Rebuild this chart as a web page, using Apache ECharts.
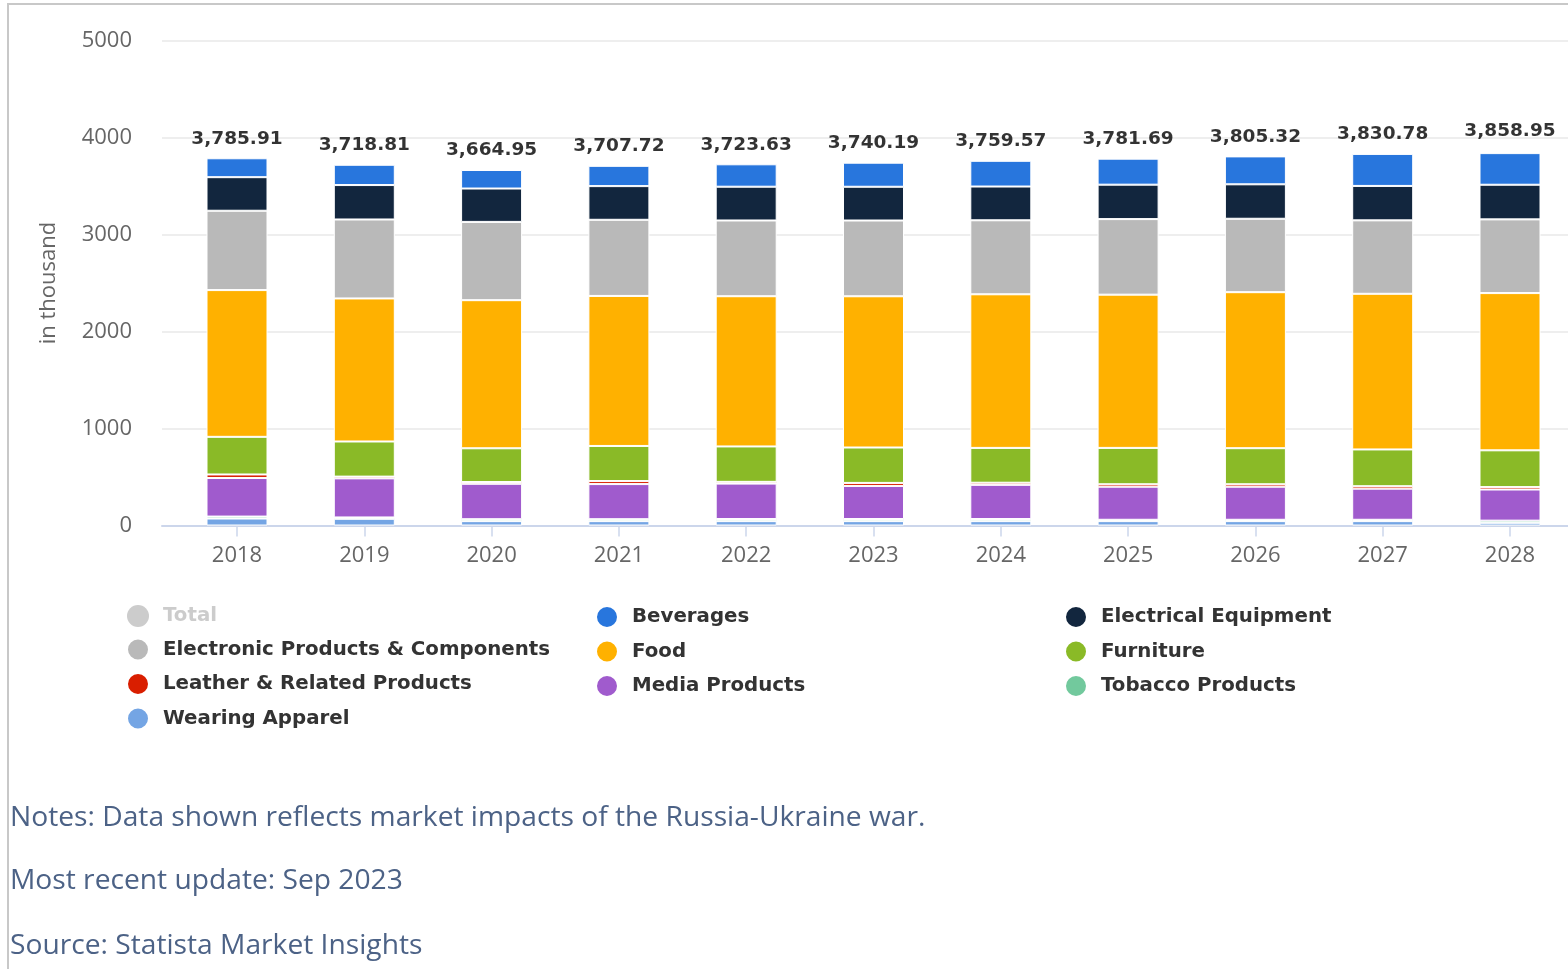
<!DOCTYPE html>
<html>
<head>
<meta charset="utf-8">
<title>Production volume by category</title>
<script src="https://cdn.jsdelivr.net/npm/echarts@6/dist/echarts.min.js"></script>
<style>
  html, body { margin: 0; padding: 0; background: #fff; overflow: hidden; }
  #chart { width: 1580px; height: 969px; }
</style>
</head>
<body>
<div id="chart"></div>
<script>
// Categories (years)
const years = ['2018', '2019', '2020', '2021', '2022', '2023', '2024', '2025', '2026', '2027', '2028'];

// Stack totals (in thousand)
const totals = [3785.91, 3718.81, 3664.95, 3707.72, 3723.63, 3740.19, 3759.57, 3781.69, 3805.32, 3830.78, 3858.95];

// Segment values (in thousand), bottom of the stack first
const wearingApparel = [72, 69, 45, 45, 45, 45, 45, 45, 45, 45, 28];
const tobaccoProducts = [20, 14, 20, 20, 22, 22, 22, 14, 14, 14, 22];
const mediaProducts = [398, 403, 365, 362, 365, 341, 352, 341, 341, 321, 321];
const leatherProducts = [36, 18, 18, 31, 18, 31, 22, 25, 25, 25, 25];
const furniture = [388, 362, 348, 362, 365, 365, 359, 375, 372, 379, 379];
const food = [1512.91, 1474.81, 1526.95, 1546.72, 1548.63, 1559.19, 1583.57, 1579.69, 1608.32, 1604.78, 1620.95];
const electronicProducts = [818, 814, 807, 785, 781, 781, 763, 779, 757, 757, 760];
const electricalEquipment = [346, 355, 344, 347, 348, 348, 348, 355, 355, 355, 357];
const beverages = [195, 209, 191, 209, 231, 248, 265, 268, 288, 330, 326];

// Y axis ticks
const yMin = 0, yMax = 5000, yStep = 1000;

const segments = [
  { name: 'Wearing Apparel', data: wearingApparel, color: '#74a5e4' },
  { name: 'Tobacco Products', data: tobaccoProducts, color: '#72c99d' },
  { name: 'Media Products', data: mediaProducts, color: '#a05bcd' },
  { name: 'Leather & Related Products', data: leatherProducts, color: '#d91e00' },
  { name: 'Furniture', data: furniture, color: '#8aba27' },
  { name: 'Food', data: food, color: '#ffb100' },
  { name: 'Electronic Products & Components', data: electronicProducts, color: '#b9b9b9' },
  { name: 'Electrical Equipment', data: electricalEquipment, color: '#12263e' },
  { name: 'Beverages', data: beverages, color: '#2876dd' }
];

const axisFont = '"Open Sans", sans-serif';
const boldFont = '"DejaVu Sans", sans-serif';

const plotTop = 40.5, plotHeight = 485;
const catWidth = 127.3;
const barLeft = 237 - catWidth / 2;

const series = segments.map(s => ({
  name: s.name,
  type: 'bar',
  stack: 'total',
  xAxisIndex: 1,
  yAxisIndex: 1,
  barWidth: 61,
  data: s.data,
  itemStyle: { color: s.color, borderColor: '#ffffff', borderWidth: 1 },
  emphasis: { disabled: true }
}));

// Total appears in the legend (switched off by default)
series.push({
  name: 'Total',
  type: 'bar',
  xAxisIndex: 1,
  yAxisIndex: 1,
  barWidth: 61,
  data: totals,
  itemStyle: { color: '#cccccc' }
});

// Total value labels above each stack
series.push({
  name: 'totalLabels',
  type: 'scatter',
  xAxisIndex: 1,
  yAxisIndex: 1,
  symbolSize: 0.01,
  silent: true,
  z: 10,
  data: totals,
  label: {
    show: true,
    position: 'top',
    distance: 10,
    color: '#000000',
    fontFamily: boldFont,
    fontWeight: 'bold',
    fontSize: 18.5,
    formatter: p => p.value.toLocaleString('en-US', { minimumFractionDigits: 2, maximumFractionDigits: 2 })
  }
});

const legendCommon = {
  orient: 'vertical',
  top: 600,
  padding: 5,
  icon: 'circle',
  itemWidth: 22,
  itemHeight: 22,
  itemGap: 10.5,
  inactiveColor: '#cccccc',
  textStyle: {
    color: '#333333',
    fontFamily: boldFont,
    fontWeight: 'bold',
    fontSize: 19.8,
    padding: [0, 0, 0, 9]
  }
};

const option = {
  animation: false,
  backgroundColor: '#ffffff',
  grid: [
    { left: 162, right: 0, top: plotTop, height: plotHeight },
    { left: barLeft, width: catWidth * years.length, top: plotTop, height: plotHeight }
  ],
  xAxis: [
    {
      type: 'value', gridIndex: 0, min: 0, max: 1,
      axisLine: { show: true, lineStyle: { color: '#ccd6eb', width: 2 } },
      axisTick: { show: false }, axisLabel: { show: false }, splitLine: { show: false }
    },
    {
      type: 'category', gridIndex: 1, data: years,
      axisLine: { show: false },
      axisTick: { show: true, alignWithLabel: true, length: 11, lineStyle: { color: '#ccd6eb', width: 1.5 } },
      axisLabel: { color: '#666666', fontFamily: axisFont, fontSize: 22, margin: 19 }
    }
  ],
  yAxis: [
    {
      type: 'value', gridIndex: 0, min: yMin, max: yMax, interval: yStep,
      name: 'in thousand', nameLocation: 'middle', nameGap: 102,
      nameTextStyle: { color: '#666666', fontFamily: axisFont, fontSize: 22 },
      axisLine: { show: false }, axisTick: { show: false },
      axisLabel: { color: '#666666', fontFamily: axisFont, fontSize: 22, margin: 30, formatter: v => String(v) },
      splitLine: { lineStyle: { color: '#e8e8e8', width: 1.5 } }
    },
    {
      type: 'value', gridIndex: 1, min: yMin, max: yMax, interval: yStep, show: false,
      splitLine: { show: false }
    }
  ],
  legend: [
    Object.assign({}, legendCommon, {
      left: 121,
      data: ['Total', 'Electronic Products & Components', 'Leather & Related Products', 'Wearing Apparel'],
      selected: { 'Total': false }
    }),
    Object.assign({}, legendCommon, {
      left: 590,
      data: ['Beverages', 'Food', 'Media Products']
    }),
    Object.assign({}, legendCommon, {
      left: 1059,
      data: ['Electrical Equipment', 'Furniture', 'Tobacco Products']
    })
  ],
  graphic: [
    {
      type: 'polyline',
      silent: true,
      shape: { points: [[8, 969], [8, 4], [1580, 4]] },
      style: { stroke: '#c8c8c8', lineWidth: 2, fill: null }
    },
    {
      type: 'text', left: 10, top: 804, silent: true,
      style: { text: 'Notes: Data shown reflects market impacts of the Russia-Ukraine war.', fill: '#4c6286', font: '28.2px "Open Sans", sans-serif' }
    },
    {
      type: 'text', left: 10, top: 867, silent: true,
      style: { text: 'Most recent update: Sep 2023', fill: '#4c6286', font: '28.2px "Open Sans", sans-serif' }
    },
    {
      type: 'text', left: 10, top: 932, silent: true,
      style: { text: 'Source: Statista Market Insights', fill: '#4c6286', font: '28.2px "Open Sans", sans-serif' }
    }
  ],
  series: series
};

const chart = echarts.init(document.getElementById('chart'), null, { renderer: 'canvas' });
chart.setOption(option);
</script>
</body>
</html>
